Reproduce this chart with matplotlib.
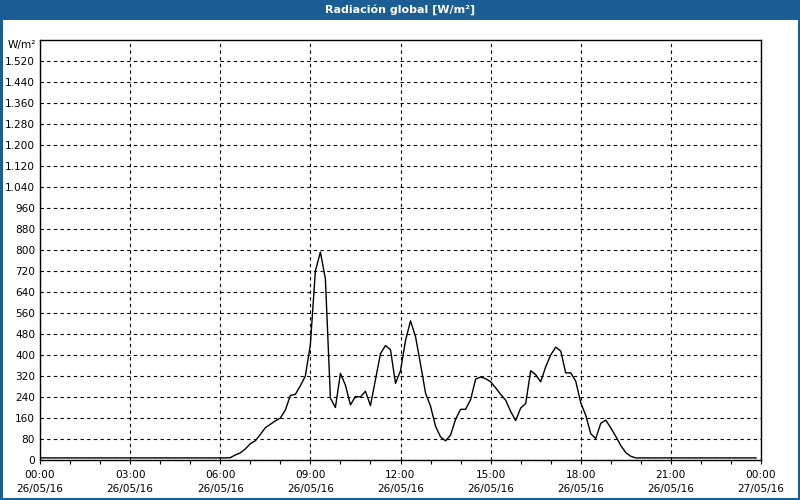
import matplotlib
matplotlib.use("Agg")
import matplotlib.pyplot as plt
from matplotlib.patches import Rectangle
from matplotlib.ticker import FixedLocator, MultipleLocator, FuncFormatter

# ---- data (10-minute values, 00:00 .. 23:50 on 26/05/16) ----
night_am = [8, 8, 8, 8, 8, 8, 8, 8, 8, 8, 8, 8,
            8, 8, 8, 8, 8, 8, 8, 8, 8, 8, 8, 8,
            8, 8, 8, 8, 8, 8, 8, 8, 8, 8, 8, 8]          # 00:00 - 05:50
day = [8, 8, 9, 19, 27, 42, 62, 73, 97, 123, 136, 149,     # 06:00 - 07:50
       160, 190, 246, 250, 283, 320, 440, 720, 792, 690, 236, 200,   # 08:00 - 09:50
       330, 285, 210, 242, 240, 262, 207, 305, 405, 436, 420, 292,   # 10:00 - 11:50
       340, 455, 530, 470, 365, 255, 205, 128, 88, 73, 95, 155,      # 12:00 - 13:50
       193, 193, 230, 308, 316, 310, 298, 275, 250, 228, 185, 150,   # 14:00 - 15:50
       198, 215, 340, 325, 298, 355, 400, 430, 415, 332, 332, 300,   # 16:00 - 17:50
       218, 170, 100, 82, 140, 152, 122, 90, 55, 28, 14, 8]          # 18:00 - 19:50
night_pm = [8, 8, 8, 8, 8, 8, 8, 8, 8, 8, 8, 8,
            8, 8, 8, 8, 8, 8, 8, 8, 8, 8, 8, 8]          # 20:00 - 23:50
values = night_am + day + night_pm
hours = [i / 6 for i in range(len(values))]

y_ticks = list(range(0, 1600, 80))
x_major = [0, 3, 6, 9, 12, 15, 18, 21, 24]
x_labels = ["00:00\n26/05/16", "03:00\n26/05/16", "06:00\n26/05/16",
            "09:00\n26/05/16", "12:00\n26/05/16", "15:00\n26/05/16",
            "18:00\n26/05/16", "21:00\n26/05/16", "00:00\n27/05/16"]
title = "Radiación global [W/m²]"
unit = "W/m²"

# ---- figure ----
BLUE = "#1b5e93"
plt.rcParams["font.family"] = ["DejaVu Sans"]
fig = plt.figure(figsize=(8, 5), dpi=100, facecolor="white")

# title bar and frame
fig.patches.append(Rectangle((0, 1 - 20 / 500), 1, 20 / 500, transform=fig.transFigure,
                             facecolor=BLUE, edgecolor="none", zorder=0))
fig.patches.append(Rectangle((0.0015, 0.003), 0.997, 0.99, transform=fig.transFigure,
                             facecolor="none", edgecolor=BLUE, lw=2.2, zorder=0))
fig.text(0.5, 1 - 10 / 500, title, color="white", fontsize=8, fontweight="bold",
         ha="center", va="center")

ax = fig.add_axes([40 / 800, 1 - 460 / 500, 721 / 800, 420 / 500])
ax.set_facecolor("white")
ax.plot(hours, values, color="black", lw=1.0)

ax.set_xlim(0, 24)
ax.set_ylim(0, 1600)

ax.yaxis.set_major_locator(FixedLocator(y_ticks))
ax.yaxis.set_major_formatter(FuncFormatter(lambda v, p: f"{int(v):,}".replace(",", ".")))
ax.xaxis.set_major_locator(FixedLocator(x_major))
ax.set_xticklabels(x_labels)
ax.xaxis.set_minor_locator(MultipleLocator(1))

ax.tick_params(axis="y", length=0, pad=3.5, labelsize=7.6, colors="black")
ax.tick_params(axis="x", which="both", length=3, width=0.8, direction="out",
               labelsize=7.6, pad=4.5, colors="black")
for lab in ax.get_xticklabels():
    lab.set_linespacing(1.5)

ax.grid(True, which="major", color="black", linestyle=(0, (3, 3)), lw=0.8)
for s in ax.spines.values():
    s.set_color("black")
    s.set_linewidth(1.0)

ax.text(-0.005, 1600 - 20, unit, transform=ax.get_yaxis_transform(),
        ha="right", va="center", fontsize=7.6)

fig.savefig("out.png", dpi=100, facecolor=fig.get_facecolor())
